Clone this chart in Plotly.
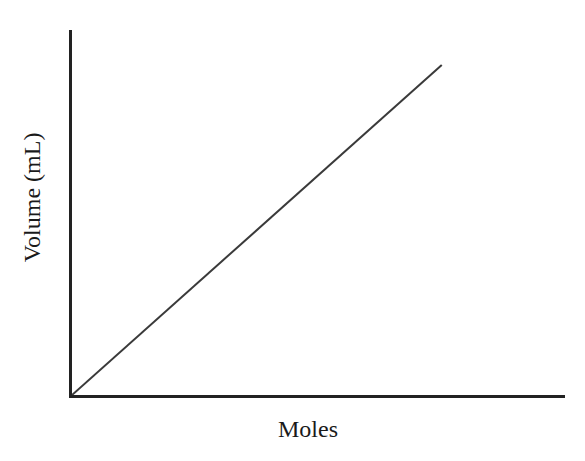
import plotly.graph_objects as go

# Direct proportion: volume grows linearly with moles (arbitrary units)
moles = [0, 0.75]
volume = [0, 0.904]

fig = go.Figure()

fig.add_trace(go.Scatter(
    x=moles,
    y=volume,
    mode='lines',
    line=dict(color='#3a3a3a', width=2),
    showlegend=False,
    hoverinfo='skip'
))

axis_font = dict(family='Liberation Serif, Times New Roman, serif', size=24, color='#1a1a1a')

# axis titles as annotations, since they sit a little off centre in the original
fig.add_annotation(text='Moles', xref='paper', yref='paper', x=0.479, y=0,
                   yshift=-34, xanchor='center', yanchor='middle',
                   showarrow=False, font=axis_font)
fig.add_annotation(text='Volume (mL)', xref='paper', yref='paper', x=0, y=0.542,
                   xshift=-40, xanchor='center', yanchor='middle', textangle=-90,
                   showarrow=False, font=axis_font)

# page body has an 8px margin, so the figure is sized a bit smaller
fig.update_layout(
    width=577,
    height=453,
    margin=dict(l=64, r=20, t=22, b=66),
    paper_bgcolor='white',
    plot_bgcolor='white',
    xaxis=dict(
        range=[0, 1],
        showline=True, linecolor='#222222', linewidth=2.5,
        showgrid=False, zeroline=False,
        showticklabels=False, ticks=''
    ),
    yaxis=dict(
        range=[0, 1],
        showline=True, linecolor='#222222', linewidth=2.5,
        showgrid=False, zeroline=False,
        showticklabels=False, ticks=''
    )
)

fig.write_html("out.html")
